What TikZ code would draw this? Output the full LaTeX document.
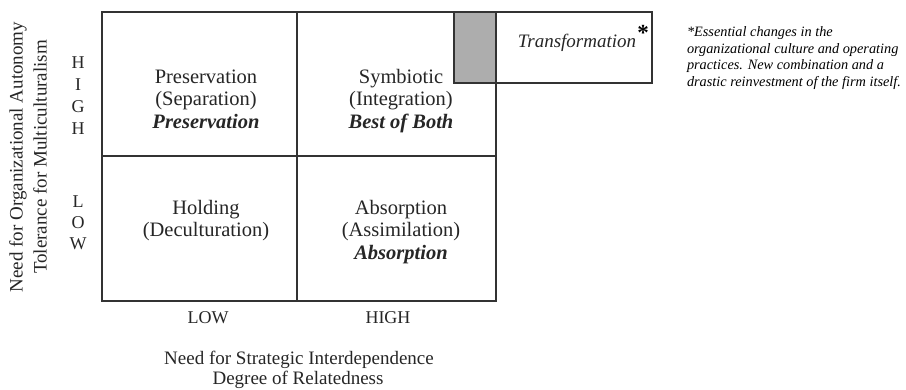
\documentclass[tikz,border=0pt]{standalone}
\usepackage{fontspec}
\setmainfont{Liberation Serif}
\begin{document}
\begin{tikzpicture}[x=1pt,y=-1pt,
  every node/.style={inner sep=0pt,outer sep=0pt,text=black!85},
  gridline/.style={draw=black!80,line width=1.4pt},
  celltext/.style={align=center,anchor=base,font=\fontsize{20.5}{22.5}\selectfont},
  axistext/.style={font=\fontsize{19}{21}\selectfont},
  ticktext/.style={font=\fontsize{18}{20}\selectfont},
  lettertext/.style={font=\fontsize{18}{20}\selectfont,anchor=center},
  notetext/.style={align=left,anchor=base west,text=black,font=\fontsize{14.3}{16.4}\selectfont\itshape}]
\useasboundingbox[fill=white] (0,0) rectangle (906,389);

% grid corners
\coordinate (tl) at (102,12);
\coordinate (tm) at (297,12);
\coordinate (tr) at (496,12);
\coordinate (ml) at (102,156);
\coordinate (mr) at (496,156);
\coordinate (bl) at (102,301);
\coordinate (bm) at (297,301);
\coordinate (br) at (496,301);
% transformation box corners
\coordinate (xl) at (454,12);
\coordinate (xlb) at (454,83);
\coordinate (xr) at (652,12);
\coordinate (xrb) at (652,83);
\coordinate (xmb) at (496,83);

% shaded overlap of the transformation box with the upper right cell
\fill[black!32] (xl) rectangle (xmb);

% two by two grid
\draw[gridline] (tl) rectangle (br);
\draw[gridline] (tm) -- (bm);
\draw[gridline] (ml) -- (mr);
% transformation box
\draw[gridline] (xl) rectangle (xrb);

% cell labels (anchored at the baseline of the last line)
\node[celltext] (pres) at (206,128) {Preservation\\(Separation)\\\textbf{\textit{Preservation}}};
\node[celltext] (symb) at (401,128) {Symbiotic\\(Integration)\\\textbf{\textit{Best of Both}}};
\node[celltext] (hold) at (206,236.5) {Holding\\(Deculturation)};
\node[celltext] (abso) at (401,259) {Absorption\\(Assimilation)\\\textbf{\textit{Absorption}}};

% transformation label
\node[font=\fontsize{19}{21}\selectfont\itshape] (trans) at (577,43) {Transformation};
\node[font=\fontsize{23}{25}\selectfont\bfseries,text=black] (star) at (643,33) {*};

% footnote (anchored at the baseline of its last line)
\node[notetext] (note) at (687,86) {*Essential changes in the\\organizational culture and operating\\practices. New combination and a\\drastic reinvestment of the firm itself.};

% vertical axis
\node[axistext,rotate=90] (yax1) at (18,157) {Need for Organizational Autonomy};
\node[axistext,rotate=90] (yax2) at (40,157) {Tolerance for Multiculturalism};
\node[lettertext] (h1) at (78,63) {H};
\node[lettertext] (h2) at (78,85) {I};
\node[lettertext] (h3) at (78,107) {G};
\node[lettertext] (h4) at (78,129) {H};
\node[lettertext] (l1) at (78,202) {L};
\node[lettertext] (l2) at (78,223) {O};
\node[lettertext] (l3) at (78,244) {W};

% horizontal axis
\node[ticktext,anchor=base] (xlow) at (208,323) {LOW};
\node[ticktext,anchor=base] (xhigh) at (388,323) {HIGH};
\node[axistext,anchor=base] (xax1) at (299,364) {Need for Strategic Interdependence};
\node[axistext,anchor=base] (xax2) at (298,384) {Degree of Relatedness};
\end{tikzpicture}
\end{document}
